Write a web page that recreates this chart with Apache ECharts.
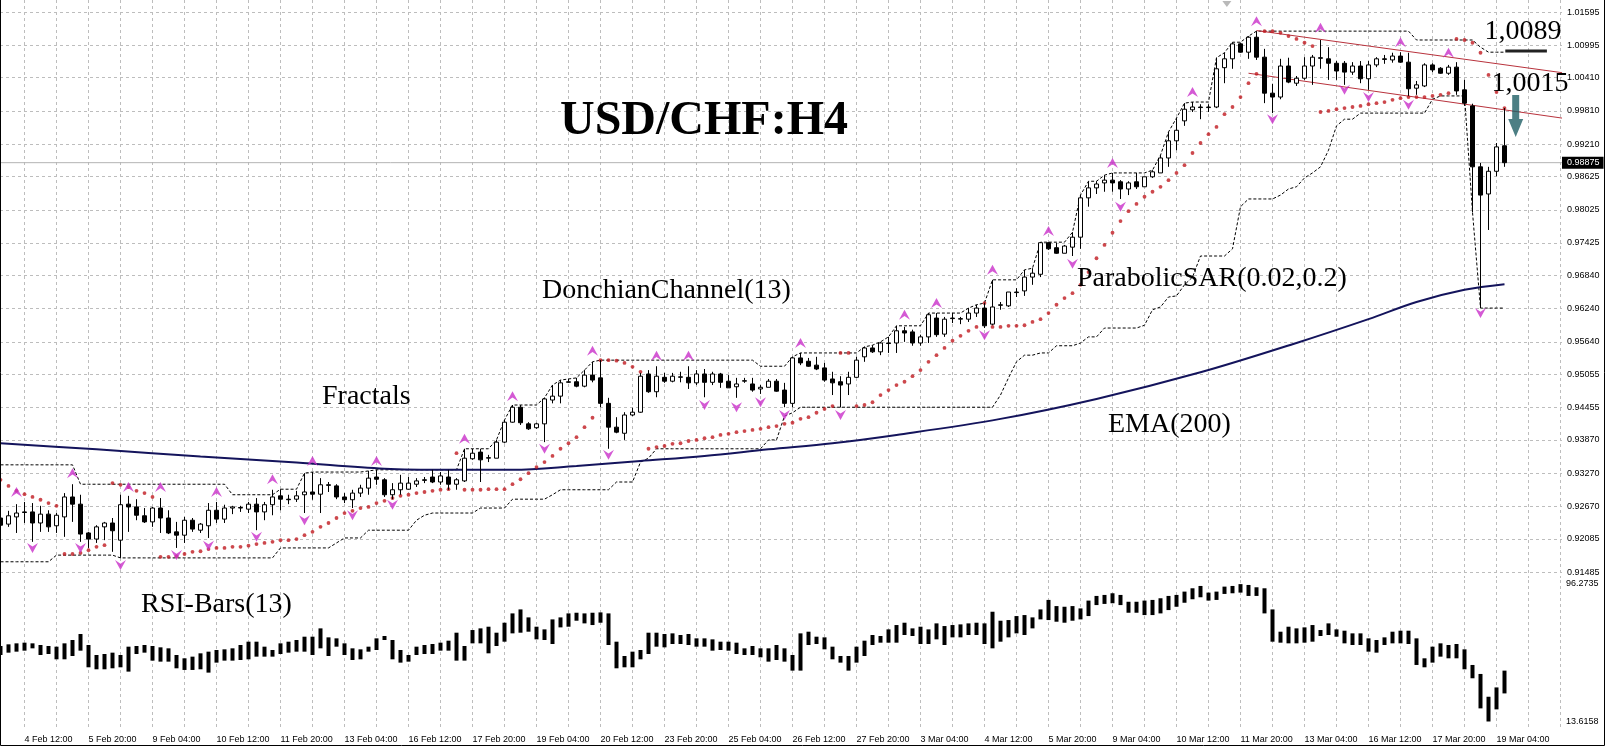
<!DOCTYPE html>
<html><head><meta charset="utf-8">
<script src="https://cdn.jsdelivr.net/npm/echarts@6/dist/echarts.min.js"></script>
<style>html,body{margin:0;padding:0;background:#fff}#c{width:1606px;height:747px}</style>
</head><body><div id="c"></div>
<script>
const timeLabels = ["4 Feb 12:00","5 Feb 20:00","9 Feb 04:00","10 Feb 12:00","11 Feb 20:00","13 Feb 04:00","16 Feb 12:00","17 Feb 20:00","19 Feb 04:00","20 Feb 12:00","23 Feb 20:00","25 Feb 04:00","26 Feb 12:00","27 Feb 20:00","3 Mar 04:00","4 Mar 12:00","5 Mar 20:00","9 Mar 04:00","10 Mar 12:00","11 Mar 20:00","13 Mar 04:00","16 Mar 12:00","17 Mar 20:00","19 Mar 04:00"];
const priceTicks = [1.01595,1.00995,1.00410,0.99810,0.99210,0.98625,0.98025,0.97425,0.96840,0.96240,0.95640,0.95055,0.94455,0.93870,0.93270,0.92670,0.92085,0.91485];
const rsiScale = [13.6158, 96.2735];

const openP = [
.9246,.9235,.9248,.9257,.9257,.9237,.9253,.9232,.9248,.9284,
.9271,.9219,.9208,.9230,.9237,.9206,.9271,.9266,.9250,.9239,
.9264,.9246,.9221,.9215,.9242,.9224,.9232,.9260,.9244,.9264,
.9265,.9262,.9271,.9257,.9270,.9286,.9280,.9280,.9288,.9293,
.9289,.9306,.9304,.9284,.9279,.9291,.9300,.9320,.9315,.9288,
.9297,.9298,.9307,.9315,.9320,.9311,.9320,.9307,.9313,.9353,
.9365,.9354,.9354,.9383,.9419,.9446,.9416,.9409,.9416,.9459,
.9466,.9491,.9492,.9484,.9504,.9499,.9453,.9410,.9399,.9432,
.9437,.9506,.9474,.9500,.9493,.9500,.9500,.9490,.9506,.9491,
.9506,.9493,.9483,.9493,.9488,.9479,.9482,.9493,.9477,.9453,
.9535,.9529,.9522,.9517,.9497,.9492,.9488,.9500,.9537,.9553,
.9546,.9562,.9562,.9584,.9582,.9562,.9573,.9607,.9578,.9607,
.9605,.9605,.9616,.9625,.9596,.9630,.9629,.9654,.9656,.9681,
.9686,.9743,.9734,.9724,.9735,.9753,.9824,.9842,.9851,.9856,
.9853,.9840,.9853,.9844,.9862,.9869,.9896,.9927,.9963,.9983,
.9988,.9987,.9988,1.0059,1.0075,1.0102,1.0087,1.0114,1.0078,1.0013,
1.0006,1.0062,1.0031,1.0040,1.0062,1.0077,1.0075,1.0067,1.0067,1.0051,
1.0062,1.0039,1.0064,1.0075,1.0073,1.0080,1.0069,1.0022,1.0026,1.0064,
1.0058,1.0049,1.0060,1.0019,.9990,.9880,.9831,.9872,.9918];
const highP = [
.9251,.9259,.9271,.9275,.9273,.9268,.9260,.9255,.9291,.9307,
.9288,.9221,.9233,.9239,.9246,.9288,.9286,.9280,.9264,.9266,
.9282,.9260,.9239,.9248,.9246,.9237,.9273,.9275,.9270,.9268,
.9268,.9275,.9282,.9275,.9297,.9298,.9288,.9295,.9327,.9329,
.9318,.9311,.9307,.9291,.9297,.9306,.9331,.9333,.9318,.9309,
.9324,.9320,.9318,.9320,.9333,.9329,.9333,.9318,.9371,.9371,
.9371,.9360,.9387,.9423,.9450,.9450,.9419,.9418,.9463,.9486,
.9495,.9497,.9499,.9513,.9528,.9531,.9463,.9428,.9437,.9445,
.9508,.9513,.9520,.9508,.9508,.9510,.9520,.9513,.9515,.9510,
.9508,.9504,.9499,.9499,.9499,.9486,.9497,.9497,.9490,.9537,
.9544,.9535,.9537,.9526,.9510,.9502,.9510,.9537,.9555,.9558,
.9564,.9573,.9593,.9591,.9586,.9577,.9616,.9616,.9609,.9616,
.9609,.9625,.9631,.9634,.9676,.9636,.9654,.9661,.9694,.9697,
.9744,.9744,.9743,.9739,.9762,.9829,.9854,.9854,.9865,.9869,
.9856,.9854,.9869,.9862,.9874,.9901,.9943,.9968,.9995,.9997,
.9993,.9993,1.0077,1.0086,1.0105,1.0104,1.0116,1.0125,1.0093,1.0030,
1.0075,1.0077,1.0044,1.0078,1.0082,1.0109,1.0096,1.0071,1.0071,1.0069,
1.0071,1.0071,1.0078,1.0082,1.0086,1.0087,1.0086,1.0035,1.0067,1.0067,
1.0060,1.0064,1.0069,1.0037,.9994,.9887,.9880,.9923,.9986];
const lowP = [
.9228,.9230,.9219,.9237,.9203,.9221,.9221,.9219,.9212,.9239,
.9203,.9192,.9201,.9206,.9185,.9174,.9221,.9242,.9237,.9230,
.9219,.9217,.9192,.9201,.9221,.9219,.9210,.9237,.9237,.9253,
.9257,.9255,.9224,.9242,.9251,.9260,.9271,.9275,.9255,.9279,
.9255,.9293,.9280,.9273,.9264,.9284,.9288,.9306,.9284,.9280,
.9288,.9297,.9302,.9309,.9309,.9306,.9297,.9297,.9311,.9351,
.9311,.9347,.9354,.9381,.9418,.9414,.9405,.9407,.9383,.9453,
.9453,.9490,.9482,.9482,.9491,.9446,.9371,.9399,.9387,.9430,
.9436,.9472,.9464,.9490,.9491,.9491,.9479,.9486,.9464,.9486,
.9481,.9481,.9463,.9490,.9474,.9470,.9482,.9474,.9446,.9446,
.9522,.9519,.9513,.9492,.9468,.9446,.9468,.9499,.9528,.9544,
.9540,.9544,.9544,.9564,.9557,.9557,.9562,.9573,.9573,.9598,
.9596,.9600,.9609,.9589,.9594,.9622,.9627,.9645,.9647,.9667,
.9681,.9730,.9723,.9724,.9719,.9732,.9808,.9831,.9835,.9835,
.9822,.9829,.9840,.9844,.9860,.9869,.9880,.9910,.9954,.9979,
.9966,.9979,.9986,1.0031,1.0057,1.0086,1.0075,1.0073,.9995,.9977,
1.0002,1.0031,1.0026,1.0037,1.0028,1.0057,1.0037,1.0037,1.0028,1.0046,
1.0031,1.0019,1.0060,1.0066,1.0068,1.0068,1.0008,1.0010,1.0024,1.0051,
1.0048,1.0046,1.0010,.9990,.9798,.9625,.9766,.9863,.9880];
const closeP = [
.9233,.9250,.9255,.9256,.9237,.9253,.9230,.9251,.9284,.9271,
.9217,.9208,.9230,.9237,.9223,.9270,.9266,.9251,.9239,.9264,
.9246,.9219,.9215,.9242,.9226,.9235,.9260,.9244,.9264,.9266,
.9264,.9271,.9257,.9270,.9284,.9280,.9279,.9286,.9293,.9289,
.9306,.9305,.9284,.9279,.9291,.9300,.9318,.9316,.9288,.9297,
.9309,.9309,.9313,.9314,.9311,.9322,.9307,.9315,.9354,.9363,
.9351,.9355,.9383,.9419,.9446,.9418,.9407,.9416,.9461,.9466,
.9490,.9492,.9484,.9504,.9495,.9453,.9410,.9401,.9432,.9437,
.9502,.9474,.9502,.9493,.9502,.9501,.9490,.9506,.9491,.9506,
.9491,.9481,.9488,.9494,.9477,.9482,.9493,.9475,.9453,.9535,
.9526,.9520,.9515,.9495,.9490,.9486,.9500,.9531,.9553,.9546,
.9562,.9561,.9584,.9580,.9562,.9573,.9613,.9577,.9605,.9606,
.9606,.9616,.9625,.9593,.9627,.9631,.9654,.9653,.9681,.9688,
.9743,.9732,.9724,.9737,.9753,.9824,.9842,.9849,.9856,.9851,
.9840,.9851,.9844,.9862,.9871,.9896,.9927,.9946,.9984,.9988,
.9987,.9988,1.0057,1.0075,1.0102,1.0087,1.0114,1.0078,1.0013,1.0006,
1.0062,1.0033,1.0040,1.0062,1.0078,1.0076,1.0067,1.0053,1.0051,1.0062,
1.0039,1.0064,1.0075,1.0074,1.0080,1.0069,1.0021,1.0028,1.0064,1.0055,
1.0049,1.0060,1.0017,.9995,.9880,.9829,.9872,.9916,.98875];

const donchUpper = [
.9342,.9342,.9342,.9342,.9342,.9342,.9342,.9342,.9342,.9342,
.9307,.9307,.9307,.9307,.9307,.9307,.9307,.9307,.9307,.9307,
.9307,.9307,.9307,.9307,.9307,.9307,.9307,.9307,.9307,.9288,
.9288,.9288,.9288,.9288,.9288,.9298,.9298,.9298,.9327,.9329,
.9329,.9329,.9329,.9329,.9329,.9329,.9331,.9333,.9333,.9333,
.9333,.9333,.9333,.9333,.9333,.9333,.9333,.9333,.9371,.9371,
.9371,.9371,.9387,.9423,.9450,.9450,.9450,.9450,.9463,.9486,
.9495,.9497,.9499,.9513,.9528,.9531,.9531,.9531,.9531,.9531,
.9531,.9531,.9531,.9531,.9531,.9531,.9531,.9531,.9531,.9531,
.9531,.9531,.9531,.9531,.9531,.9520,.9520,.9520,.9520,.9537,
.9544,.9544,.9544,.9544,.9544,.9544,.9544,.9544,.9555,.9558,
.9564,.9573,.9593,.9593,.9593,.9593,.9616,.9616,.9616,.9616,
.9616,.9625,.9631,.9634,.9676,.9676,.9676,.9676,.9694,.9697,
.9744,.9744,.9744,.9744,.9762,.9829,.9854,.9854,.9865,.9869,
.9869,.9869,.9869,.9869,.9874,.9901,.9943,.9968,.9995,.9997,
.9997,.9997,1.0077,1.0086,1.0105,1.0105,1.0116,1.0125,1.0125,1.0125,
1.0125,1.0125,1.0125,1.0125,1.0125,1.0125,1.0125,1.0125,1.0125,1.0125,
1.0125,1.0125,1.0125,1.0125,1.0125,1.0125,1.0125,1.0109,1.0109,1.0109,
1.0109,1.0109,1.0109,1.0109,1.0109,1.0096,1.0087,1.0087,1.0087];
const donchLower = [
.9167,.9167,.9167,.9167,.9167,.9167,.9167,.9179,.9179,.9179,
.9179,.9179,.9179,.9179,.9179,.9174,.9174,.9174,.9174,.9174,
.9174,.9174,.9174,.9174,.9174,.9174,.9174,.9174,.9174,.9174,
.9174,.9174,.9174,.9174,.9174,.9192,.9192,.9192,.9192,.9192,
.9192,.9192,.9201,.9210,.9210,.9210,.9224,.9224,.9224,.9224,
.9224,.9224,.9242,.9251,.9255,.9255,.9255,.9255,.9255,.9255,
.9264,.9264,.9264,.9264,.9280,.9280,.9280,.9280,.9280,.9288,
.9297,.9297,.9297,.9297,.9297,.9297,.9297,.9311,.9311,.9311,
.9347,.9354,.9371,.9371,.9371,.9371,.9371,.9371,.9371,.9371,
.9371,.9371,.9371,.9371,.9371,.9371,.9387,.9387,.9430,.9436,
.9446,.9446,.9446,.9446,.9446,.9446,.9446,.9446,.9446,.9446,
.9446,.9446,.9446,.9446,.9446,.9446,.9446,.9446,.9446,.9446,
.9446,.9446,.9446,.9446,.9446,.9468,.9499,.9528,.9540,.9540,
.9544,.9544,.9557,.9557,.9557,.9562,.9573,.9573,.9589,.9589,
.9589,.9589,.9589,.9594,.9622,.9627,.9645,.9647,.9667,.9681,
.9719,.9719,.9719,.9719,.9732,.9808,.9822,.9822,.9822,.9822,
.9829,.9840,.9844,.9860,.9869,.9880,.9910,.9954,.9966,.9966,
.9977,.9977,.9977,.9977,.9977,.9977,.9977,.9977,.9977,1.0002,
1.0008,1.0008,1.0008,1.0008,.9798,.9625,.9625,.9625,.9625];

const sarVals = [
.9315,.9304,.9295,.9289,.9284,.9279,.9273,.9268,.9181,.9181,
.9183,.9188,.9194,.9197,.9309,.9306,.9302,.9295,.9291,.9284,
.9176,.9176,.9177,.9181,.9185,.9186,.9190,.9192,.9192,.9194,
.9194,.9196,.9199,.9201,.9203,.9206,.9206,.9208,.9215,.9221,
.9230,.9237,.9246,.9255,.9259,.9264,.9266,.9273,.9277,.9282,
.9286,.9288,.9291,.9293,.9295,.9297,.9298,.9363,.9297,.9297,
.9297,.9298,.9298,.9298,.9307,.9316,.9327,.9338,.9347,.9358,
.9371,.9381,.9392,.9410,.9427,.9531,.9531,.9530,.9526,.9519,
.9510,.9371,.9374,.9376,.9380,.9381,.9385,.9387,.9390,.9392,
.9396,.9398,.9401,.9403,.9405,.9407,.9410,.9412,.9416,.9418,
.9425,.9428,.9436,.9443,.9448,.9544,.9544,.9448,.9450,.9455,
.9468,.9477,.9486,.9492,.9502,.9513,.9528,.9540,.9553,.9566,
.9575,.9584,.9591,.9634,.9591,.9591,.9593,.9593,.9594,.9600,
.9605,.9616,.9631,.9643,.9652,.9667,.9690,.9715,.9739,.9761,
.9782,.9800,.9813,.9826,.9835,.9844,.9856,.9869,.9883,.9905,
.9923,.9939,.9952,.9975,.9988,1.0006,1.0031,1.0048,1.0125,1.0125,
1.0122,1.0116,1.0111,1.0104,1.0098,.9979,.9981,.9984,.9986,.9988,
.9990,.9993,.9995,.9997,1.0001,1.0004,1.0006,1.0006,1.0006,1.0008,
1.0010,1.0013,1.0111,1.0109,1.0104,1.0086,1.0046,1.0015,.9986];

const fracUpIdx = [2,9,16,20,27,34,39,47,58,64,74,82,86,100,113,117,124,131,139,149,157,165,175,181];
const fracUpVal = [.9293,.9327,.9302,.9302,.9293,.9316,.9349,.9349,.9389,.9466,.9548,.9539,.9539,.9562,.9613,.9634,.9694,.9764,.9887,1.0015,1.0143,1.0131,1.0105,1.0086];
const fracDnIdx = [4,10,15,22,26,32,38,44,49,68,76,88,92,95,98,105,123,134,140,159,168,171,176,185];
const fracDnVal = [.9192,.9192,.9161,.9179,.9196,.9212,.9242,.9251,.9270,.9371,.9360,.9450,.9446,.9455,.9432,.9432,.9576,.9705,.9808,.9966,1.0019,1.0006,.9992,.9616];

const emaIdx = [0,12,25,37,48,56,64,72,80,88,96,104,112,125,137,150,162,171,177,183,188];
const emaVal = [.9381,.9370,.9357,.9346,.9335,.9333,.9333,.9340,.9349,.9358,.9370,.9381,.9396,.9425,.9461,.9509,.9562,.9605,.9636,.9658,.9668];

const chanUpIdx = [157, 195.19];
const chanUpVal = [1.0126, 1.0050];
const chanLoIdx = [156, 195.19];
const chanLoVal = [1.0049, 0.9968];
const levelIdx = [188.1, 193.3];
const levelVal = [1.0089, 1.0089];
const arrowIdx = [189.4];
const arrowVal = [0.9972];
const shiftIdx = [153.3];
const shiftVal = [1.0174];

const rsiHigh = [
59.0,60.0,60.6,61.0,60.6,59.6,59.0,58.6,60.6,62.6,
66.2,59.6,53.6,54.2,55.0,53.6,58.6,59.0,59.6,59.0,
58.2,57.6,53.6,51.6,52.6,54.6,55.6,56.6,57.0,57.6,
59.6,61.6,61.6,58.6,56.6,60.6,61.6,62.6,64.6,64.6,
69.6,64.2,63.6,60.6,57.6,57.0,58.6,63.6,65.0,62.6,
56.6,53.6,58.6,59.6,60.2,61.0,62.2,67.0,59.0,68.6,
69.6,70.6,67.0,73.0,78.6,81.0,76.2,70.6,69.0,75.0,
76.2,78.6,79.0,78.6,79.0,79.2,78.6,61.6,53.0,55.6,
56.6,67.0,67.0,66.2,66.6,65.6,66.2,63.6,63.6,63.0,
61.6,61.6,61.0,57.6,59.0,57.6,57.6,59.6,57.6,53.6,
66.6,67.6,64.6,64.2,58.6,53.0,53.0,58.6,62.2,65.6,
65.0,69.0,71.6,73.0,69.6,70.6,69.0,72.6,71.0,71.6,
72.0,72.6,73.0,72.6,79.6,74.2,74.6,77.0,77.6,76.2,
81.0,86.7,83.0,82.6,83.0,81.6,86.3,89.1,89.7,90.7,
89.7,85.6,85.6,86.3,86.7,87.7,89.1,89.7,91.7,93.7,
95.1,91.1,91.7,94.7,95.1,96.2,95.7,94.3,93.7,81.0,
67.6,70.6,69.6,70.2,71.6,68.6,72.6,69.0,68.2,66.6,
66.6,63.6,62.6,64.2,67.6,68.2,68.2,63.6,51.6,58.6,
60.6,59.6,60.2,57.0,47.6,42.2,28.5,34.1,44.2];
const rsiLow = [
53.6,55.0,55.6,56.2,57.6,53.6,54.2,51.0,51.0,53.0,
56.2,46.2,45.0,45.0,45.6,46.2,43.6,54.2,55.0,50.2,
49.6,49.6,45.6,44.6,44.6,45.0,43.0,49.0,50.2,50.2,
50.6,51.0,52.6,52.6,52.6,54.2,55.0,55.6,55.6,53.6,
57.6,53.0,58.6,53.6,50.6,51.0,55.6,56.6,62.6,51.0,
49.0,49.6,53.6,54.2,54.2,56.2,56.2,50.2,50.2,60.6,
60.6,54.6,59.0,61.6,66.6,67.0,67.6,63.0,62.6,60.2,
70.2,70.6,74.2,72.6,71.6,73.0,59.6,45.6,46.2,46.2,
51.0,54.2,58.6,58.2,60.2,60.2,59.6,58.6,58.6,56.2,
56.6,56.2,54.2,53.6,53.6,52.2,49.6,50.6,49.6,44.2,
44.2,59.6,60.2,57.0,51.0,49.0,44.2,49.0,53.0,59.6,
61.0,61.0,61.0,65.6,65.0,60.2,60.2,63.0,59.6,64.2,
64.2,65.6,65.6,60.2,57.6,61.6,64.2,66.6,65.6,69.6,
75.0,74.6,73.6,73.0,74.2,75.0,77.0,83.6,84.3,84.7,
83.6,79.0,79.0,77.6,77.6,78.6,80.6,82.6,85.0,87.1,
88.3,86.3,86.7,90.3,90.7,91.1,89.1,89.1,78.6,61.6,
61.0,60.6,60.6,61.0,61.6,65.0,65.6,64.6,60.6,59.6,
59.6,55.6,55.0,59.6,60.6,60.6,60.2,47.6,46.2,49.0,
52.6,51.6,51.6,45.0,39.6,21.5,13.62,20.9,30.5];

// ---- layout ----
const X_MIN = -0.0625, X_MAX = 195.1875;      // index 0 centred at x=0.5px, 8px per bar
const Y_MIN = 0.91377, Y_MAX = 1.01812;
const RSI_MIN = 9.708, RSI_MAX = 98.678;
const idx = openP.map((_, i) => i);
const gridIdx = []; for (let v = 3; v <= 195; v += 4) gridIdx.push(v);
const labelIdx = timeLabels.map((_, k) => 3 + 8 * k);
const lastClose = closeP[closeP.length - 1];

const dashed = {color: '#bdbdbd', type: [3, 3], width: 1};
const axisFont = {fontSize: 9, fontFamily: 'Liberation Sans', color: '#000'};
const serif = '"Liberation Serif", "DejaVu Serif", serif';
function txt(text, x, y, font, align) {
  return {type: 'text', x: x, y: y, z: 10, silent: true,
    style: {text: text, font: font, fill: '#000', align: align, verticalAlign: 'middle',
            textAlign: align, textVerticalAlign: 'middle'}};
}

const chart = echarts.init(document.getElementById('c'), null, {renderer: 'canvas'});
chart.setOption({
  animation: false,
  backgroundColor: '#fff',
  grid: [
    {left: 0, right: 44, top: 0, height: 578},
    {left: 0, right: 44, top: 580, height: 148}
  ],
  xAxis: [
    {type: 'value', gridIndex: 0, min: X_MIN, max: X_MAX,
     axisLine: {show: false}, axisTick: {show: false, customValues: gridIdx},
     axisLabel: {show: false}, splitLine: {show: true, lineStyle: dashed}},
    {type: 'value', gridIndex: 1, min: X_MIN, max: X_MAX,
     axisLine: {show: false}, axisTick: {show: false, customValues: gridIdx},
     axisLabel: Object.assign({show: true, customValues: labelIdx, align: 'left', margin: 7,
       formatter: v => timeLabels[Math.round((v - 3) / 8)] || ''}, axisFont),
     splitLine: {show: true, lineStyle: dashed}}
  ],
  yAxis: [
    {type: 'value', gridIndex: 0, position: 'right', min: Y_MIN, max: Y_MAX,
     axisLine: {show: false}, axisTick: {show: false, customValues: priceTicks},
     axisLabel: Object.assign({customValues: priceTicks, margin: 5, formatter: v => v.toFixed(5)}, axisFont),
     splitLine: {show: true, lineStyle: dashed}},
    {type: 'value', gridIndex: 1, position: 'right', min: RSI_MIN, max: RSI_MAX,
     axisLine: {show: false}, axisTick: {show: false, customValues: rsiScale},
     axisLabel: Object.assign({customValues: rsiScale, margin: 4, formatter: v => v.toFixed(4)}, axisFont),
     splitLine: {show: false}}
  ],
  series: [
    {name: 'LastPrice', type: 'line', xAxisIndex: 0, yAxisIndex: 0, z: 1, symbol: 'none', silent: true,
     data: [[X_MIN, lastClose], [X_MAX, lastClose]], lineStyle: {color: '#b4b4b4', width: 1},
     endLabel: {show: true, distance: 0, formatter: lastClose.toFixed(5), color: '#fff',
       backgroundColor: '#000', padding: [2, 4, 1, 5], fontSize: 9, fontFamily: 'Liberation Sans'}},
    {name: 'DonchianUpper', type: 'line', xAxisIndex: 0, yAxisIndex: 0, z: 2, symbol: 'none',
     data: idx.map(i => [i, donchUpper[i]]), lineStyle: {color: '#000', width: 1, type: [3, 2]}},
    {name: 'DonchianLower', type: 'line', xAxisIndex: 0, yAxisIndex: 0, z: 2, symbol: 'none',
     data: idx.map(i => [i, donchLower[i]]), lineStyle: {color: '#000', width: 1, type: [3, 2]}},
    {name: 'EMA200', type: 'line', xAxisIndex: 0, yAxisIndex: 0, z: 3, symbol: 'none', smooth: 0.35,
     data: emaIdx.map((v, k) => [v, emaVal[k]]), lineStyle: {color: '#14145c', width: 2}},
    {name: 'ChannelUp', type: 'line', xAxisIndex: 0, yAxisIndex: 0, z: 3, symbol: 'none',
     data: chanUpIdx.map((v, k) => [v, chanUpVal[k]]), lineStyle: {color: '#b8323c', width: 1}},
    {name: 'ChannelLo', type: 'line', xAxisIndex: 0, yAxisIndex: 0, z: 3, symbol: 'none',
     data: chanLoIdx.map((v, k) => [v, chanLoVal[k]]), lineStyle: {color: '#b8323c', width: 1}},
    {name: 'SAR', type: 'scatter', xAxisIndex: 0, yAxisIndex: 0, z: 4, symbol: 'circle', symbolSize: 3.8,
     data: idx.map(i => [i, sarVals[i]]), itemStyle: {color: '#c01a20'}},
    {name: 'Price', type: 'candlestick', xAxisIndex: 0, yAxisIndex: 0, z: 5, barWidth: 5,
     encode: {x: 0, y: [1, 2, 3, 4]},
     data: idx.map(i => [i, openP[i], closeP[i], lowP[i], highP[i]]),
     itemStyle: {color: '#fff', color0: '#000', borderColor: '#000', borderColor0: '#000', borderWidth: 1}},
    {name: 'FractalUp', type: 'scatter', xAxisIndex: 0, yAxisIndex: 0, z: 6,
     symbol: 'path://M6,0 L12,11 L6,7 L0,11 Z', symbolSize: [11, 10],
     data: fracUpIdx.map((v, k) => [v, fracUpVal[k]]), itemStyle: {color: '#c930c9'}},
    {name: 'FractalDown', type: 'scatter', xAxisIndex: 0, yAxisIndex: 0, z: 6,
     symbol: 'path://M0,0 L6,4 L12,0 L6,11 Z', symbolSize: [11, 10],
     data: fracDnIdx.map((v, k) => [v, fracDnVal[k]]), itemStyle: {color: '#c930c9'}},
    {name: 'Level', type: 'line', xAxisIndex: 0, yAxisIndex: 0, z: 6, symbol: 'none',
     data: levelIdx.map((v, k) => [v, levelVal[k]]), lineStyle: {color: '#222', width: 3}},
    {name: 'Arrow', type: 'scatter', xAxisIndex: 0, yAxisIndex: 0, z: 7,
     symbol: 'path://M4,0 L11,0 L11,24 L15,24 L7.5,42 L0,24 L4,24 Z', symbolSize: [15, 42],
     data: arrowIdx.map((v, k) => [v, arrowVal[k]]), itemStyle: {color: '#1f5f65'}},
    {name: 'ShiftMark', type: 'scatter', xAxisIndex: 0, yAxisIndex: 0, z: 7,
     symbol: 'triangle', symbolRotate: 180, symbolSize: [9, 6],
     data: shiftIdx.map((v, k) => [v, shiftVal[k]]), itemStyle: {color: '#a8a8a8'}},
    {name: 'RSI', type: 'candlestick', xAxisIndex: 1, yAxisIndex: 1, barWidth: 4,
     encode: {x: 0, y: [1, 2, 3, 4]},
     data: idx.map(i => [i, rsiLow[i], rsiHigh[i], rsiLow[i], rsiHigh[i]]),
     itemStyle: {color: '#000', color0: '#000', borderColor: '#000', borderColor0: '#000', borderWidth: 0}}
  ],
  graphic: [
    txt('USD/CHF:H4', 704, 122, 'bold 48px ' + serif, 'center'),
    txt('DonchianChannel(13)', 542, 291, '28px ' + serif, 'left'),
    txt('Fractals', 322, 397, '28px ' + serif, 'left'),
    txt('ParabolicSAR(0.02,0.2)', 1077, 279, '28px ' + serif, 'left'),
    txt('EMA(200)', 1108, 425, '28px ' + serif, 'left'),
    txt('RSI-Bars(13)', 141, 605, '28px ' + serif, 'left'),
    txt('1,0089', 1523, 32, '28px ' + serif, 'center'),
    txt('1,0015', 1530, 84, '28px ' + serif, 'center'),
    {type: 'polyline', z: 10, silent: true, shape: {points: [[0.5, 0], [0.5, 745.5], [1604.5, 745.5], [1604.5, 0]]}, style: {stroke: '#000', lineWidth: 1, fill: null}}
  ]
});
</script>
</body></html>
